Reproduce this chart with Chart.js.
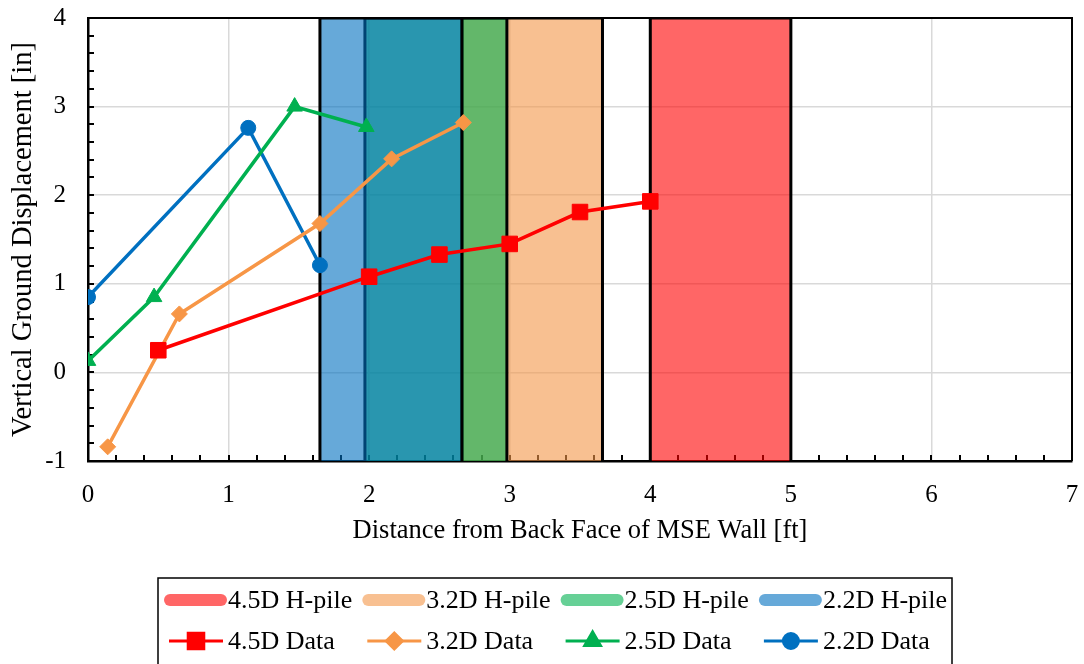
<!DOCTYPE html>
<html>
<head>
<meta charset="utf-8">
<script src="https://cdn.jsdelivr.net/npm/chart.js"></script>
<style>
  body { margin: 0; background: #fff; }
  canvas { display: block; }
</style>
</head>
<body>
<canvas id="pileChart" width="1084" height="664"></canvas>
<script>
const canvas = document.getElementById('pileChart');
const ctx = canvas.getContext('2d');

//// pile zones (x extent in ft)
const pileLabels = ['4.5D H-pile', '3.2D H-pile', '2.5D H-pile', '2.2D H-pile'];
const pileStart = [4.0, 2.66, 1.97, 1.65];
const pileEnd = [5.0, 3.66, 2.98, 2.66];
const pileColors = ['rgba(255,0,0,0.6)', 'rgba(243,150,72,0.6)', 'rgba(0,176,80,0.6)', 'rgba(0,112,192,0.6)'];

//// measured data
const dataLabels = ['4.5D Data', '3.2D Data', '2.5D Data', '2.2D Data'];
const x45 = [0.5, 2.0, 2.5, 3.0, 3.5, 4.0];
const y45 = [0.25, 1.08, 1.33, 1.45, 1.81, 1.93];
const x32 = [0.14, 0.65, 1.65, 2.16, 2.67];
const y32 = [-0.84, 0.66, 1.68, 2.41, 2.82];
const x25 = [0, 0.47, 1.47, 1.98];
const y25 = [0.13, 0.85, 3.0, 2.77];
const x22 = [0, 1.14, 1.65];
const y22 = [0.85, 2.76, 1.21];
const dataX = [x45, x32, x25, x22];
const dataY = [y45, y32, y25, y22];
const dataColors = ['#FF0000', '#F79646', '#00B050', '#0070C0'];
const dataMarkers = ['rect', 'rectRot', 'triangle', 'circle'];
const markerSizes = [11, 8, 9, 7.5];

// axis ranges
const xMin = 0, xMax = 7, yMin = -1, yMax = 4;
const FONT = "'Liberation Serif', 'Times New Roman', serif";

const datasets = [];
pileLabels.forEach((lbl, i) => {
  datasets.push({
    label: lbl,
    isPile: true,
    data: [
      { x: pileStart[i], y: yMin },
      { x: pileStart[i], y: yMax },
      { x: pileEnd[i], y: yMax },
      { x: pileEnd[i], y: yMin }
    ],
    showLine: true,
    fill: 'start',
    backgroundColor: pileColors[i],
    borderColor: '#000',
    borderWidth: 3,
    pointRadius: 0,
    order: 13 - i
  });
});
dataLabels.forEach((lbl, i) => {
  datasets.push({
    label: lbl,
    data: dataX[i].map((x, j) => ({ x: x, y: dataY[i][j] })),
    showLine: true,
    fill: false,
    borderColor: dataColors[i],
    backgroundColor: dataColors[i],
    borderWidth: 3.5,
    pointStyle: dataMarkers[i],
    pointRadius: markerSizes[i],
    pointBorderWidth: 1,
    order: i
  });
});

// minor ticks inside the plot + top/right frame
const frame = {
  id: 'frame',
  beforeDatasetsDraw(chart) {
    const { ctx, chartArea: a, scales: { x, y } } = chart;
    ctx.save();
    ctx.strokeStyle = '#000';
    ctx.lineWidth = 2;
    ctx.beginPath();
    for (let v = xMin; v <= xMax + 1e-9; v += 0.2) {
      const px = Math.round(x.getPixelForValue(v));
      ctx.moveTo(px, a.bottom);
      ctx.lineTo(px, a.bottom - 6);
    }
    for (let v = yMin; v <= yMax + 1e-9; v += 0.2) {
      const py = Math.round(y.getPixelForValue(v));
      ctx.moveTo(a.left, py);
      ctx.lineTo(a.left + 6, py);
    }
    ctx.stroke();
    ctx.restore();
  },
  afterDatasetsDraw(chart) {
    const { ctx, chartArea: a } = chart;
    ctx.save();
    ctx.strokeStyle = '#000';
    ctx.lineWidth = 2;
    ctx.beginPath();
    ctx.moveTo(a.left, a.top);
    ctx.lineTo(a.right, a.top);
    ctx.lineTo(a.right, a.bottom);
    ctx.stroke();
    ctx.restore();
  }
};

// boxed legend in fixed columns
const boxLegend = {
  id: 'boxLegend',
  afterDraw(chart) {
    const ctx = chart.ctx;
    const colW = 198.3;
    ctx.save();
    ctx.strokeStyle = '#000';
    ctx.lineWidth = 1.5;
    ctx.strokeRect(158, 578, 794, 100);
    ctx.font = '26px ' + FONT;
    ctx.textBaseline = 'middle';
    ctx.fillStyle = '#000';
    chart.data.datasets.forEach((ds, i) => {
      const col = i % 4;
      const rowY = i < 4 ? 600 : 641;
      const x0 = 165 + col * colW;
      if (ds.isPile) {
        ctx.strokeStyle = ds.backgroundColor;
        ctx.lineWidth = 12;
        ctx.lineCap = 'round';
        ctx.beginPath();
        ctx.moveTo(x0 + 5, rowY);
        ctx.lineTo(x0 + 56, rowY);
        ctx.stroke();
      } else {
        ctx.strokeStyle = ds.borderColor;
        ctx.lineWidth = 3;
        ctx.lineCap = 'butt';
        ctx.beginPath();
        ctx.moveTo(x0 + 4, rowY);
        ctx.lineTo(x0 + 58, rowY);
        ctx.stroke();
        ctx.fillStyle = ds.backgroundColor;
        Chart.helpers.drawPoint(ctx, { pointStyle: ds.pointStyle, radius: ds.pointRadius, rotation: 0, borderWidth: 1 }, x0 + 31, rowY);
      }
      ctx.fillStyle = '#000';
      ctx.fillText(ds.label, x0 + 63, rowY + 1);
    });
    ctx.restore();
  }
};

Chart.defaults.color = '#000';
Chart.defaults.font.family = FONT;

new Chart(ctx, {
  type: 'scatter',
  data: { datasets },
  options: {
    responsive: false,
    animation: false,
    layout: { padding: { top: 18, right: 11, bottom: 113, left: 0 } },
    plugins: {
      legend: { display: false },
      tooltip: { enabled: false }
    },
    scales: {
      x: {
        type: 'linear',
        min: xMin,
        max: xMax,
        afterFit: (s) => { s.height = 90; },
        ticks: { stepSize: 1, padding: 0, font: { size: 25 } },
        grid: { color: '#d9d9d9', lineWidth: 1.5, drawTicks: true, tickLength: 19, tickColor: 'rgba(0,0,0,0)' },
        border: { color: '#000', width: 2.5 },
        title: {
          display: true,
          text: 'Distance from Back Face of MSE Wall [ft]',
          font: { size: 26.5 },
          padding: { top: 0, bottom: 4 }
        }
      },
      y: {
        type: 'linear',
        min: yMin,
        max: yMax,
        afterFit: (s) => { s.width = 88; },
        ticks: { stepSize: 1, padding: 0, font: { size: 25 } },
        grid: { color: '#d9d9d9', lineWidth: 1.5, drawTicks: true, tickLength: 22, tickColor: 'rgba(0,0,0,0)' },
        border: { color: '#000', width: 2.5 },
        title: {
          display: true,
          text: 'Vertical Ground Displacement [in]',
          font: { size: 28.5 },
          padding: { top: 6, bottom: 0 }
        }
      }
    }
  },
  plugins: [frame, boxLegend]
});
</script>
</body>
</html>
